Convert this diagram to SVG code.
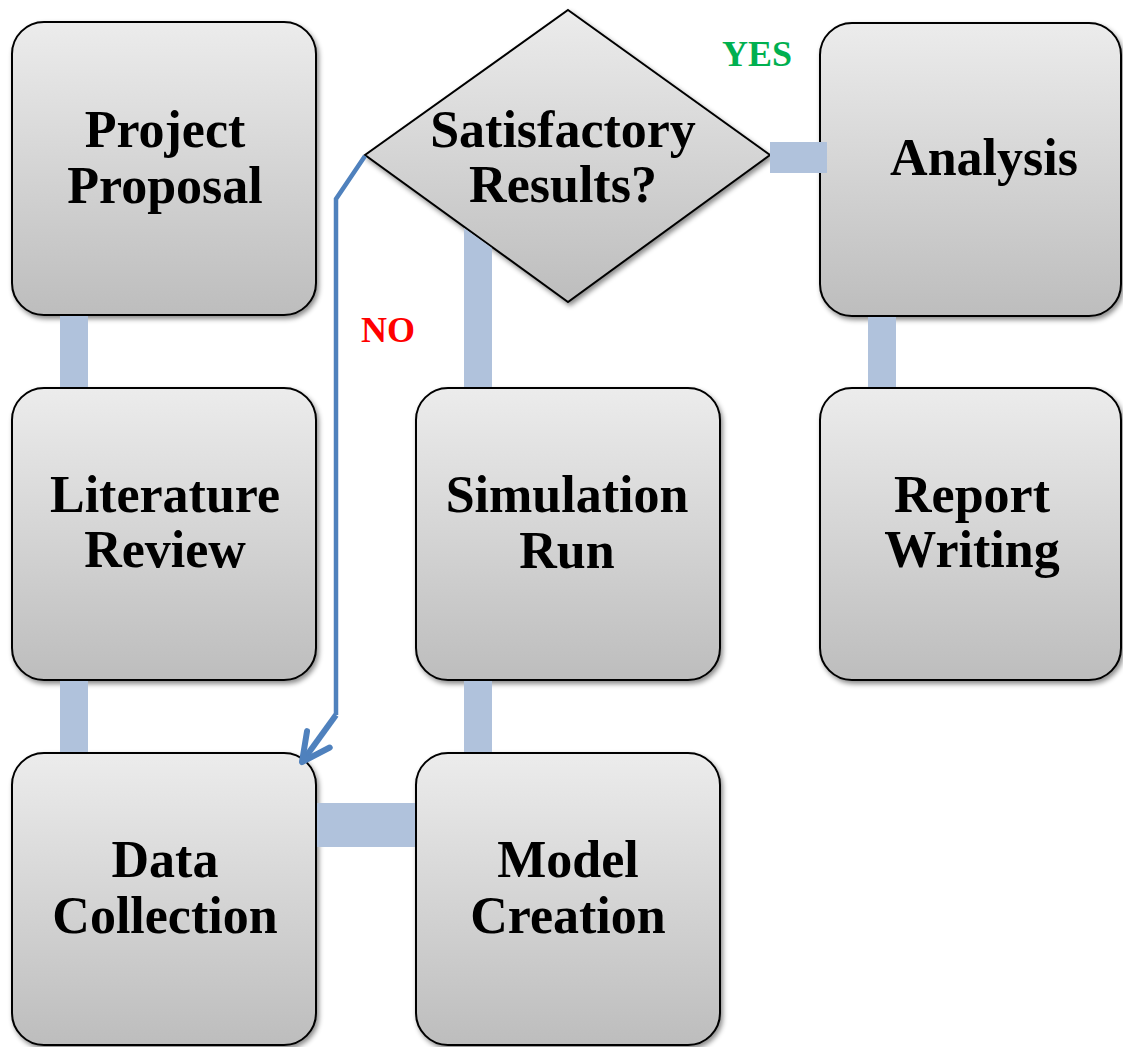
<svg xmlns="http://www.w3.org/2000/svg" width="1123" height="1047" viewBox="0 0 1123 1047">
  <defs>
    <linearGradient id="g" x1="0" y1="0" x2="0" y2="1">
      <stop offset="0" stop-color="#ECECEC"/>
      <stop offset="1" stop-color="#BDBDBD"/>
    </linearGradient>
    <filter id="sh" x="-10%" y="-10%" width="125%" height="125%">
      <feDropShadow dx="2" dy="3" stdDeviation="2.5" flood-color="#000" flood-opacity="0.45"/>
    </filter>
    <marker id="arr" viewBox="0 0 36 36" refX="32" refY="18" markerWidth="36" markerHeight="36" markerUnits="userSpaceOnUse" orient="auto">
      <path d="M4,4 L32,18 L4,32" fill="none" stroke="#4F81BD" stroke-width="6" stroke-linecap="round" stroke-linejoin="round"/>
    </marker>
    <style>
      .box { fill: url(#g); stroke: #000; stroke-width: 2; filter: url(#sh); }
      .t { font-family: "Liberation Serif", "Times New Roman", serif; font-weight: bold; font-size: 52px; fill: #000; text-anchor: middle; }
      .lbl { font-family: "Liberation Serif", "Times New Roman", serif; font-weight: bold; font-size: 36px; text-anchor: start; }
      .c { fill: #B0C2DC; }
    </style>
  </defs>
  <rect width="1123" height="1047" fill="#fff"/>

  <g id="node-project-proposal">
    <rect class="box" x="12" y="22" width="304" height="293" rx="32"/>
    <text class="t" x="165" y="147">Project</text>
    <text class="t" x="165" y="203">Proposal</text>
  </g>
  <g id="node-literature-review">
    <rect class="box" x="12" y="388" width="304" height="292" rx="32"/>
    <text class="t" x="165" y="512">Literature</text>
    <text class="t" x="165" y="567">Review</text>
  </g>
  <g id="node-data-collection">
    <rect class="box" x="12" y="753" width="304" height="292" rx="32"/>
    <text class="t" x="165" y="877">Data</text>
    <text class="t" x="165" y="933">Collection</text>
  </g>
  <g id="node-model-creation">
    <rect class="box" x="416" y="753" width="304" height="292" rx="32"/>
    <text class="t" x="568" y="877">Model</text>
    <text class="t" x="568" y="933">Creation</text>
  </g>
  <g id="node-simulation-run">
    <rect class="box" x="416" y="388" width="304" height="292" rx="32"/>
    <text class="t" x="567" y="512">Simulation</text>
    <text class="t" x="567" y="568">Run</text>
  </g>
  <g id="node-satisfactory">
    <polygon class="box" points="568,10 770,155 568,302 365,155"/>
    <text class="t" x="563" y="147">Satisfactory</text>
    <text class="t" x="563" y="202">Results?</text>
  </g>
  <g id="node-analysis">
    <rect class="box" x="820" y="23" width="301" height="293" rx="32"/>
    <text class="t" x="984" y="175">Analysis</text>
  </g>
  <g id="node-report-writing">
    <rect class="box" x="820" y="388" width="301" height="292" rx="32"/>
    <text class="t" x="972" y="512">Report</text>
    <text class="t" x="972" y="567">Writing</text>
  </g>

  <g id="connectors">
    <rect class="c" x="60" y="316" width="28" height="71"/>
    <rect class="c" x="60" y="681" width="28" height="71"/>
    <rect class="c" x="317" y="803" width="98" height="44"/>
    <rect class="c" x="464" y="681" width="28" height="71"/>
    <polygon class="c" points="464,228 492,248 492,387 464,387"/>
    <rect class="c" x="770" y="142" width="57" height="31"/>
    <rect class="c" x="868" y="317" width="28" height="70"/>
    <polyline points="365,156 336,199 336,715" fill="none" stroke="#4F81BD" stroke-width="4.5" stroke-linejoin="miter"/>
    <line x1="336" y1="715" x2="302" y2="762" stroke="#4F81BD" stroke-width="6" marker-end="url(#arr)"/>
    <text class="lbl" x="722" y="66" fill="#00B050">YES</text>
    <text class="lbl" x="361" y="342" fill="#FF0000">NO</text>
  </g>
</svg>
